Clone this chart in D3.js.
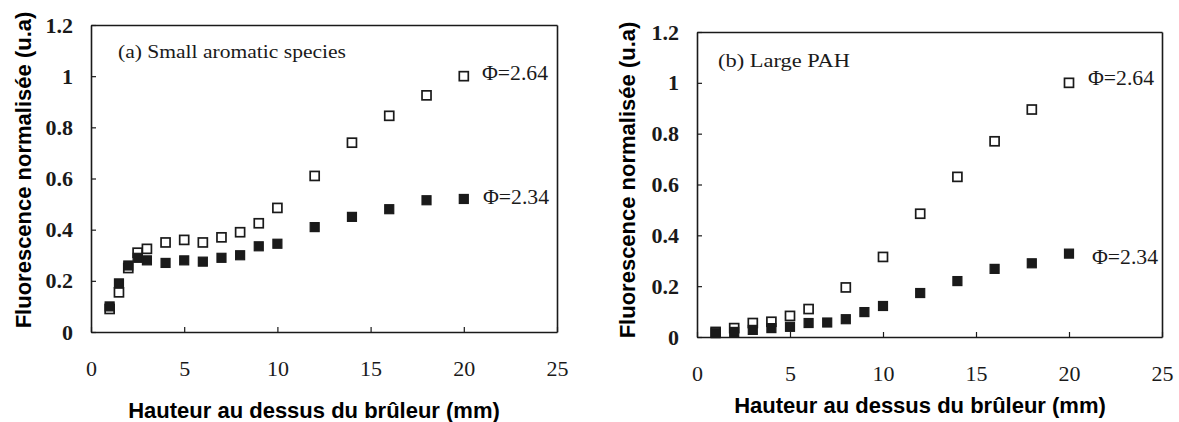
<!DOCTYPE html>
<html><head><meta charset="utf-8">
<script src="https://cdn.jsdelivr.net/npm/d3@7"></script>
<style>body{margin:0;background:#fff}</style>
</head><body>
<svg id="c" width="1179" height="422"></svg>
<script>
const xTicks = [0,5,10,15,20,25];
const yTicks = [0,0.2,0.4,0.6,0.8,1,1.2];
const yTickLabels = ["0","0.2","0.4","0.6","0.8","1","1.2"];
const seriesNames = ["\u03A6=2.64","\u03A6=2.34"];
const panelTitles = ["(a) Small aromatic species","(b) Large PAH"];
const xTitle = "Hauteur au dessus du brûleur (mm)";
const yTitle = "Fluorescence normalisée (u.a)";

// Panel (a)
const xA = [1,1.5,2,2.5,3,4,5,6,7,8,9,10,12,14,16,18,20];
const yA_264 = [0.09,0.155,0.25,0.31,0.325,0.35,0.36,0.35,0.37,0.39,0.425,0.485,0.61,0.74,0.845,0.925,1.0];
const yA_234 = [0.10,0.19,0.26,0.29,0.28,0.27,0.28,0.275,0.29,0.30,0.335,0.345,0.41,0.45,0.48,0.515,0.52];
// Panel (b)
const xB_264 = [1,2,3,4,5,6,8,10,12,14,16,18,20];
const yB_264 = [0.02,0.035,0.055,0.06,0.083,0.11,0.195,0.315,0.485,0.63,0.77,0.895,1.0];
const xB_234 = [1,2,3,4,5,6,7,8,9,10,12,14,16,18,20];
const yB_234 = [0.015,0.02,0.028,0.035,0.04,0.055,0.057,0.07,0.098,0.122,0.173,0.22,0.268,0.29,0.328];

const svg = d3.select("#c");
const panels = [
  {L:91,R:557,T:25,B:332, title:panelTitles[0], tx:118, ty:58, tw:228,
   open:d3.zip(xA,yA_264), filled:d3.zip(xA,yA_234),
   lab1:{x:482,y:80}, lab2:{x:483,y:204}, ytx:31, yty:170, xtx:314, xty:418},
  {L:697,R:1162,T:32,B:337, title:panelTitles[1], tx:718, ty:67, tw:132,
   open:d3.zip(xB_264,yB_264), filled:d3.zip(xB_234,yB_234),
   lab1:{x:1088,y:85}, lab2:{x:1092,y:264}, ytx:635, yty:180, xtx:920, xty:413}
];
const serif = "'Liberation Serif','Times New Roman',serif";
const sans = "'Liberation Sans',Arial,sans-serif";
const ink = "#1a1a1a";

panels.forEach(p => {
  const x = d3.scaleLinear().domain([0,25]).range([p.L,p.R]);
  const y = d3.scaleLinear().domain([0,1.2]).range([p.B,p.T]);
  const g = svg.append("g");
  const bottom = g.append("g").attr("transform",`translate(0,${p.B})`)
    .call(d3.axisBottom(x).tickValues(xTicks).tickSizeInner(-5).tickSizeOuter(0).tickPadding(28).tickFormat(d3.format("d")));
  const top = g.append("g").attr("transform",`translate(0,${p.T})`)
    .call(d3.axisTop(x).tickValues([]).tickSizeOuter(0));
  const left = g.append("g").attr("transform",`translate(${p.L},0)`)
    .call(d3.axisLeft(y).tickValues(yTicks).tickSizeInner(-5).tickSizeOuter(0).tickPadding(18).tickFormat((d,i)=>yTickLabels[i]));
  const right = g.append("g").attr("transform",`translate(${p.R},0)`)
    .call(d3.axisRight(y).tickValues([]).tickSizeOuter(0));
  [bottom,top,left,right].forEach(a=>{
    a.attr("font-family",serif).attr("font-size",22);
    a.select(".domain").attr("stroke",ink).attr("stroke-width",1.6);
    a.selectAll(".tick line").attr("stroke",ink).attr("stroke-width",1.2);
    a.selectAll("text").style("font-family",serif).style("font-size","22px").attr("fill",ink);
  });
  left.selectAll("text").style("font-weight","bold");
  // panel title
  g.append("text").attr("x",p.tx).attr("y",p.ty).style("font-family",serif)
    .style("font-size","19px").attr("fill",ink)
    .attr("textLength",p.tw).attr("lengthAdjust","spacingAndGlyphs").text(p.title);
  // markers
  const s = 9;
  g.selectAll(".op").data(p.open).join("rect")
    .attr("x",d=>x(d[0])-s/2).attr("y",d=>y(d[1])-s/2).attr("width",s).attr("height",s)
    .attr("fill","#fff").attr("stroke",ink).attr("stroke-width",1.7);
  g.selectAll(".fp").data(p.filled).join("rect")
    .attr("x",d=>x(d[0])-s/2).attr("y",d=>y(d[1])-s/2).attr("width",s).attr("height",s)
    .attr("fill",ink).attr("stroke",ink).attr("stroke-width",1.2);
  // series labels
  [p.lab1,p.lab2].forEach((l,i)=>{
    g.append("text").attr("x",l.x).attr("y",l.y).style("font-family",serif)
      .style("font-size","20px").attr("fill",ink)
      .attr("textLength",66).attr("lengthAdjust","spacingAndGlyphs").text(seriesNames[i]);
  });
  // axis titles
  g.append("text").attr("x",p.xtx).attr("y",p.xty).attr("text-anchor","middle")
    .style("font-family",sans).style("font-weight","bold").style("font-size","22px").text(xTitle);
  g.append("text").attr("transform",`translate(${p.ytx},${p.yty}) rotate(-90)`)
    .attr("text-anchor","middle").style("font-family",sans).style("font-weight","bold")
    .style("font-size","22px").text(yTitle);
});
</script>
</body></html>
